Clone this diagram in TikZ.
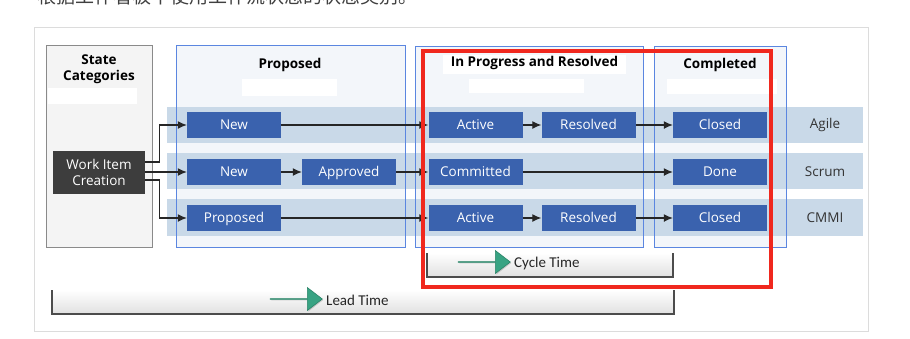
\documentclass[tikz,border=0pt]{standalone}
\usepackage{fontspec}
\setmainfont{Open Sans}
\newfontfamily\cjk{Noto Sans CJK SC}
\newfontfamily\narrowfont{Carlito}
\usetikzlibrary{arrows.meta,shapes.arrows,shadows}

\definecolor{stageblue}{HTML}{5B86E0}
\definecolor{stagefill}{HTML}{F3F6FA}
\definecolor{bandblue}{HTML}{C9D9E8}
\definecolor{stateblue}{HTML}{3A62AE}
\definecolor{wicgray}{HTML}{3D3D3D}
\definecolor{catfill}{HTML}{F4F4F4}
\definecolor{catline}{HTML}{8A8A8A}
\definecolor{framegray}{HTML}{DCDCDC}
\definecolor{arrowgreen}{HTML}{38A383}
\definecolor{arrowedge}{HTML}{2B8468}
\definecolor{highlight}{HTML}{F0281E}
\definecolor{labelgray}{HTML}{333333}

\tikzset{
  stagebox/.style={draw=stageblue, line width=1pt},
  band/.style={fill=bandblue},
  blank/.style={fill=white},
  heading/.style={font=\bfseries\fontsize{13.5}{16}\selectfont, text=black, inner sep=0},
  statebox/.style={fill=stateblue, text=white, minimum width=94pt, minimum height=26pt,
    inner sep=0, text height=10.5pt, text depth=1.5pt, font=\fontsize{13.5}{15}\selectfont},
  rowlabel/.style={text=labelgray, font=\fontsize{13.5}{15}\selectfont, inner sep=0},
  flow/.style={draw=black!85, line width=1.1pt, -{Latex[length=9pt,width=8pt]}},
  timebar/.style={top color=white, bottom color=black!12},
  barline/.style={draw=black!70, line width=1.1pt},
  bigarrow/.style={single arrow, fill=arrowgreen, draw=arrowedge, line width=0.6pt,
    minimum height=52pt, minimum width=23pt, single arrow head extend=7.5pt,
    single arrow tip angle=75, inner sep=0,
    drop shadow={opacity=0.35, shadow xshift=1pt, shadow yshift=-1pt}},
  timetext/.style={font=\narrowfont\fontsize{15}{17}\selectfont, text=black!85, inner sep=0, anchor=west},
}

\begin{document}
\begin{tikzpicture}[x=1pt,y=-1pt]
\useasboundingbox (0,0) rectangle (910,338);
\clip (0,0) rectangle (910,338);

% caption line above the figure
\node[anchor=base west, inner sep=0, text=black!75, font=\cjk\fontsize{19}{20}\selectfont]
  (caption) at (37,3) {根据工作看板中使用工作流状态的状态类别。};

% outer frame
\draw[framegray, line width=0.8pt] (34,27) rectangle (868,331);

% state categories column
\draw[draw=catline, fill=catfill, line width=1pt] (46,45) rectangle (152,247);
\fill[blank] (48,88) rectangle (137,104);
\node[heading, align=center, font=\bfseries\fontsize{13.5}{16}\selectfont] (cattitle) at (99,69) {State\\Categories};

% stage fills
\fill[stagefill] (176,45) rectangle (405,247);
\fill[stagefill] (415,46) rectangle (643,247);
\fill[stagefill] (654,46) rectangle (786,247);

% process bands
\fill[band] (167,107) rectangle (863,143);
\fill[band] (167,153) rectangle (863,189);
\fill[band] (167,199) rectangle (863,236);

% stage borders
\draw[stagebox] (176,45) rectangle (405,247);
\draw[stagebox] (415,46) rectangle (643,247);
\draw[stagebox] (654,46) rectangle (786,247);

% stage headings
\node[heading] (tprop) at (290,65) {Proposed};
\fill[blank] (242,79) rectangle (337,96);
\fill[blank] (443,55) rectangle (626,74);
\node[heading] (tprog) at (534.5,63) {In Progress and Resolved};
\fill[blank] (469,79) rectangle (584,93);
\node[heading] (tdone) at (720,65) {Completed};
\fill[blank] (667,79) rectangle (777,94);

% work item creation
\node[fill=wicgray, text=white, minimum width=92pt, minimum height=43pt, inner sep=0,
  align=center, font=\fontsize{13.5}{16}\selectfont] (wic) at (99,172) {Work Item\\Creation};

% Agile
\node[statebox] (newA) at (234,125) {New};
\node[statebox] (actA) at (475.5,125) {Active};
\node[statebox] (resA) at (588.5,125) {Resolved};
\node[statebox] (cloA) at (720,125) {Closed};
% Scrum
\node[statebox] (newS) at (234,172) {New};
\node[statebox] (appS) at (349,172) {Approved};
\node[statebox] (comS) at (475.5,172) {Committed};
\node[statebox] (donS) at (720,172) {Done};
% CMMI
\node[statebox] (proC) at (234,218) {Proposed};
\node[statebox] (actC) at (475.5,218) {Active};
\node[statebox] (resC) at (588.5,218) {Resolved};
\node[statebox] (cloC) at (720,218) {Closed};

% process names
\node[rowlabel] (agile) at (825,125) {Agile};
\node[rowlabel] (scrum) at (825,172) {Scrum};
\node[rowlabel] (cmmi) at (825,218) {CMMI};

% entry connectors
\draw[flow] ([yshift=10pt]wic.east) -- ++(14,0) |- (newA.west);
\draw[flow] (wic.east) -- (newS.west);
\draw[flow] ([yshift=-8pt]wic.east) -- ++(14,0) |- (proC.west);

% state transitions
\draw[flow] (newA) -- (actA);
\draw[flow] (actA) -- (resA);
\draw[flow] (resA) -- (cloA);
\draw[flow] (newS) -- (appS);
\draw[flow] (appS) -- (comS);
\draw[flow] (comS) -- (donS);
\draw[flow] (proC) -- (actC);
\draw[flow] (actC) -- (resC);
\draw[flow] (resC) -- (cloC);

% cycle time bar
\fill[timebar] (427,253) rectangle (673,277);
\draw[barline] (427,253) -- (427,277) -- (673,277) -- (673,253);
\node[bigarrow] (cycarrow) at (484,262) {};
\node[timetext] (cyctext) at (514,263.5) {Cycle Time};

% lead time bar
\fill[timebar] (52,290) rectangle (674,314);
\draw[barline] (52,290) -- (52,314) -- (674,314) -- (674,290);
\node[bigarrow] (leadarrow) at (296,299) {};
\node[timetext] (leadtext) at (326,300.5) {Lead Time};

% highlight frame
\draw[highlight, line width=3.2pt] (423,51) rectangle (771,287);
\end{tikzpicture}
\end{document}
